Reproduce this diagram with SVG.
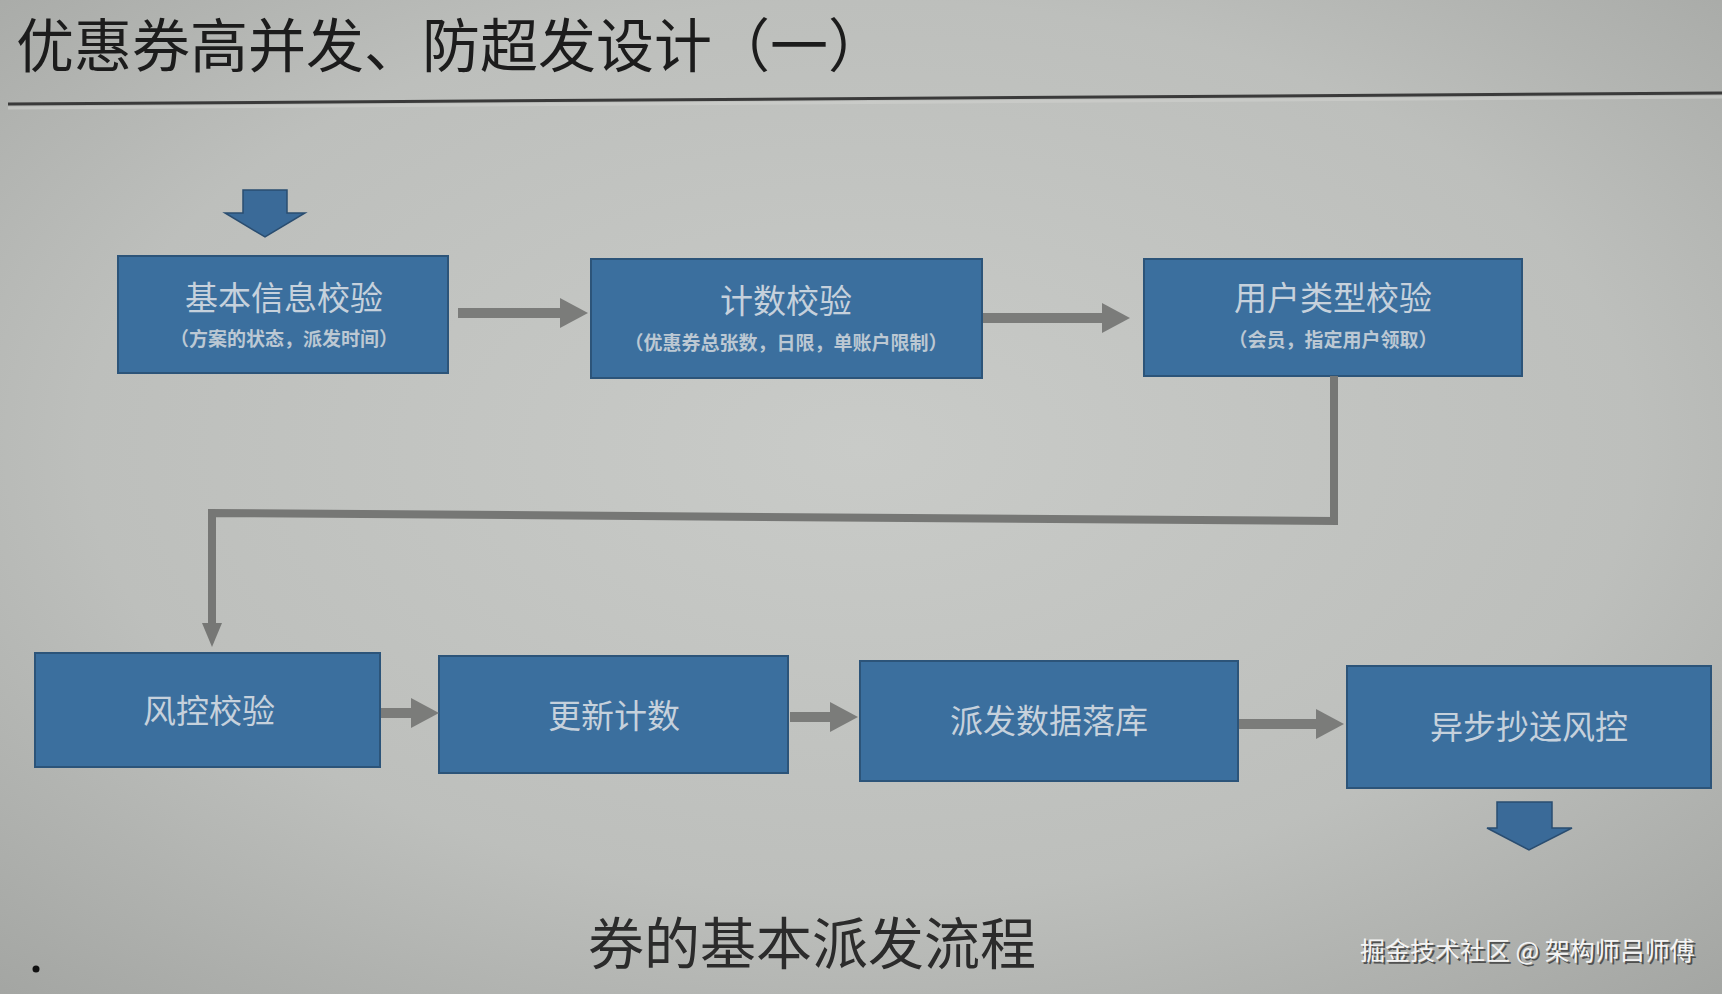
<svg xmlns="http://www.w3.org/2000/svg" width="1722" height="994" viewBox="0 0 1722 994">
<defs>
<radialGradient id="bg" cx="0.5" cy="0.45" r="0.75">
<stop offset="0" stop-color="#c9cbc8"/>
<stop offset="0.6" stop-color="#bdbfbc"/>
<stop offset="1" stop-color="#a3a5a2"/>
</radialGradient>
<marker id="ah" markerUnits="userSpaceOnUse" markerWidth="30" markerHeight="32" refX="0" refY="16" orient="auto">
<path d="M0,1 L28,16 L0,31 z" fill="#7b7c7a"/>
</marker>
<marker id="ahs" markerUnits="userSpaceOnUse" markerWidth="26" markerHeight="24" refX="0" refY="12" orient="auto">
<path d="M0,2 L24,12 L0,22 z" fill="#767775"/>
</marker>
</defs>
<style>
.node{fill:#3b6f9e;stroke:#2c5479;stroke-width:2}
.main{font-family:"Noto Sans CJK SC","Noto Sans",sans-serif;font-size:33px;fill:#c6d1dc;text-anchor:middle}
.sub{font-family:"Noto Sans CJK SC","Noto Sans",sans-serif;font-size:19px;font-weight:bold;fill:#bcc8d3;text-anchor:middle}
.conn{stroke:#7b7c7a;stroke-width:10;fill:none}
.elbow{stroke:#767775;stroke-width:8;fill:none;stroke-linejoin:miter}
.block{fill:#3a6a98;stroke:#2a4d70;stroke-width:1.5}
</style>
<rect width="1722" height="994" fill="url(#bg)"/>
<text x="16" y="67" font-family="Noto Sans CJK SC,sans-serif" font-size="58" fill="#1c1c1c">优惠券高并发、防超发设计（一）</text>
<path d="M8,104 L1722,93" stroke="#3a3a3a" stroke-width="3"/>
<path d="M8,108 L1722,97" stroke="#d0d1ce" stroke-width="3" opacity="0.6"/>
<g id="start-arrow"><polygon class="block" points="243,190 287,190 287,213 305,213 265,237 225,213 243,213"/></g>
<g id="n1"><rect class="node" x="118" y="256" width="330" height="117"/><text class="main" x="284" y="310">基本信息校验</text><text class="sub" x="284" y="346">（方案的状态，派发时间）</text></g>
<g id="n2"><rect class="node" x="591" y="259" width="391" height="119"/><text class="main" x="786" y="313">计数校验</text><text class="sub" x="786" y="350">（优惠券总张数，日限，单账户限制）</text></g>
<g id="n3"><rect class="node" x="1144" y="259" width="378" height="117"/><text class="main" x="1333" y="310">用户类型校验</text><text class="sub" x="1333" y="347">（会员，指定用户领取）</text></g>
<g id="n4"><rect class="node" x="35" y="653" width="345" height="114"/><text class="main" x="209" y="723">风控校验</text></g>
<g id="n5"><rect class="node" x="439" y="656" width="349" height="117"/><text class="main" x="614" y="728">更新计数</text></g>
<g id="n6"><rect class="node" x="860" y="661" width="378" height="120"/><text class="main" x="1049" y="733">派发数据落库</text></g>
<g id="n7"><rect class="node" x="1347" y="666" width="364" height="122"/><text class="main" x="1529" y="739">异步抄送风控</text></g>
<g id="end-arrow"><polygon class="block" points="1497,802 1552,802 1552,828 1572,828 1529,850 1487,828 1497,828"/></g>
<g id="connectors">
<line class="conn" x1="458" y1="313" x2="560" y2="313" marker-end="url(#ah)"/>
<line class="conn" x1="983" y1="318" x2="1102" y2="318" marker-end="url(#ah)"/>
<path class="elbow" d="M1334,376 V521 L212,513 V623" marker-end="url(#ahs)"/>
<line class="conn" x1="381" y1="713" x2="411" y2="713" marker-end="url(#ah)"/>
<line class="conn" x1="790" y1="717" x2="830" y2="717" marker-end="url(#ah)"/>
<line class="conn" x1="1239" y1="724" x2="1316" y2="724" marker-end="url(#ah)"/>
</g>
<text x="812" y="964" font-family="Noto Sans CJK SC,sans-serif" font-size="56" fill="#2b2b2b" text-anchor="middle">券的基本派发流程</text>
<circle cx="36" cy="969" r="3.5" fill="#111"/>
<text x="1362" y="962" font-family="Noto Sans CJK SC,sans-serif" font-size="25" fill="#3a3a3a" opacity="0.8">掘金技术社区 @ 架构师吕师傅</text>
<text x="1360" y="960" font-family="Noto Sans CJK SC,sans-serif" font-size="25" fill="#f4f4f4">掘金技术社区 @ 架构师吕师傅</text>
</svg>
